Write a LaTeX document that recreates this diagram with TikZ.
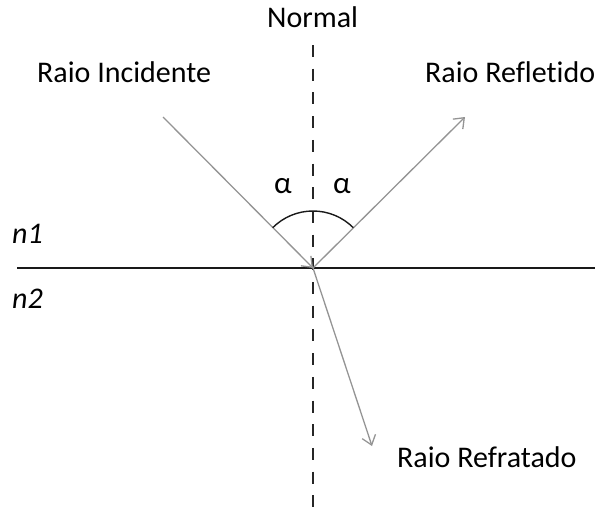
\documentclass[tikz,border=0pt]{standalone}
\usepackage{fontspec}
\setmainfont[Ligatures=CommonOff]{Carlito}
\usetikzlibrary{arrows.meta}
\begin{document}
\begin{tikzpicture}[x=1pt,y=-1pt,
  lbl/.style={anchor=base west,inner sep=0pt,font=\fontsize{30}{36}\selectfont},
  ray/.style={draw=black!42,line width=1.3pt},
  tip/.style={-{Straight Barb[length=9pt,width=14pt,line width=1.3pt]}}]
\useasboundingbox (0,0) rectangle (595,507);
\coordinate (O) at (313,268);
\coordinate (nt) at (313,45);
\coordinate (nb) at (313,507);
\coordinate (sl) at (17,268);
\coordinate (sr) at (595,268);
\coordinate (inc) at (163,117);
\coordinate (refl) at (465,117);
\coordinate (refr) at (372,446);
% normal
\draw[line width=1.8pt,black!85,dash pattern=on 12pt off 11.7pt] (nt) -- (nb);
% surface
\draw[line width=1.8pt,black!90] (sl) -- (sr);
% rays
\draw[ray,tip] (inc) -- (O);
\draw[ray,tip] (O) -- (refl);
\draw[ray,tip] (O) -- (refr);
% arc
\draw[line width=1.4pt,black!90] ([shift={(225:57)}]O) arc[start angle=225,end angle=315,radius=57];
% labels
\node[lbl] (normal) at (267,27) {Normal};
\node[lbl] (rinc) at (37,82) {Raio Incidente};
\node[lbl] (rref) at (425,82) {Raio Refletido};
\node[lbl] (rrfr) at (397,467) {Raio Refratado};
\node[lbl,font=\fontsize{30}{36}\selectfont\itshape] (n1) at (12,243) {n1};
\node[lbl,font=\fontsize{30}{36}\selectfont\itshape] (n2) at (12,308) {n2};
\node[inner sep=0pt,font=\fontsize{31}{36}\selectfont] (a1) at (283,186) {α};
\node[inner sep=0pt,font=\fontsize{31}{36}\selectfont] (a2) at (342,186) {α};
\end{tikzpicture}
\end{document}
